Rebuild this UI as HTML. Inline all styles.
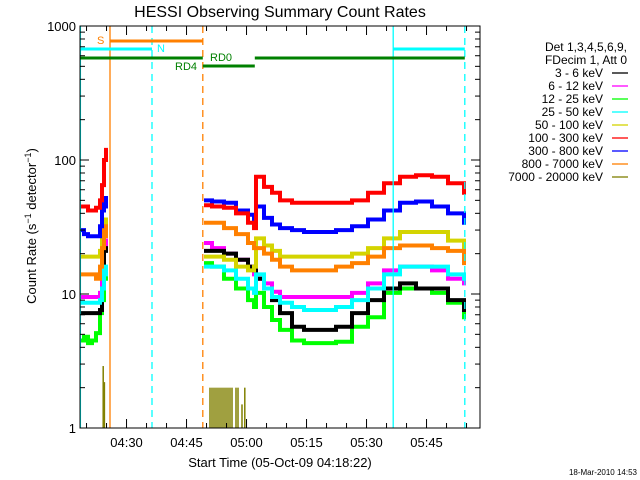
<!DOCTYPE html>
<html><head><meta charset="utf-8"><style>
body{margin:0;background:#fff}
svg{display:block;font-family:"Liberation Sans",sans-serif}
</style></head><body>
<svg id="c" width="640" height="480" xmlns="http://www.w3.org/2000/svg">
<rect width="640" height="480" fill="#fff"/>
<text x="280" y="17" font-size="16" text-anchor="middle">HESSI Observing Summary Count Rates</text>
<g id="plot"></g>
<text transform="translate(36,226) rotate(-90)" font-size="13" text-anchor="middle">Count Rate (s<tspan baseline-shift="super" font-size="9">−1</tspan> detector<tspan baseline-shift="super" font-size="9">−1</tspan>)</text>
<text x="280" y="467" font-size="13" text-anchor="middle">Start Time (05-Oct-09 04:18:22)</text>
<text x="637" y="475" font-size="8" text-anchor="end">18-Mar-2010 14:53</text>
<g id="legend"></g>
</svg>
<script>
// time in minutes since 04:18:22
const T1 = [0,1,2,3,4,5,5.5,6,6.5];
const red1 = [45,45,42,42,44,50,65,100,119];
const blue1 = [30,28,27,27,27,32,42,52,45];
const yellow1 = [19,19,19,19,19,21,29,36,32];
const orange1 = [14,14,14,14,13,16,22,32,27];
const magenta1 = [9.5,9.5,9.5,9.5,9.5,10.2,14,22,25];
const cyan1 = [8.6,8.6,8.6,8.6,8.6,9,11,16,14];
const black1 = [7.2,7.2,7.2,7.2,7.2,7.6,11,22,21];
const green1 = [4.5,4.8,4.3,4.5,5.1,7.2,9,14,13];
const T2 = [31,33,36,39,42,43.5,44,46,48,50,53,56,60,64,68,72,76,80,84,88,92,96];
const red2 = [46,45,44,40,34,31,75,63,57,50,48,48,48,48,50,57,67,75,77,75,67,57];
const blue2 = [50,49,48,42,39,33,45,37,33,31,30,29,29,30,32,36,42,48,49,45,40,34];
const orange2 = [34,34,31,28,24,22,22,20,18,16,15,15,15,16,17,19,22,23,23,22,21,17];
const yellow2 = [19,19,18,16,15,16,26,23,21,19,19,19,19,19,20,22,26,29,29,29,25,22];
const magenta2 = [24,22,20,18,16,14,13,12,10.4,9.5,9.5,9.5,9.5,9.5,10.2,12,15,16,16,15,13,12];
const cyan2 = [16,16,15,13,11,10.2,14,11,9.5,8.6,8,7.6,7.6,8,9,11,14,16,16,16,14,13];
const black2 = [21,21,20,18,16,15,13,11,9,7.2,5.7,5.4,5.4,5.7,7.2,9,11,12,11,11,9,7.6];
const green2 = [17,16,13,11,9,8,10.2,8,6.4,5.4,4.5,4.3,4.3,4.4,5.7,6.7,10.2,11,11,10.2,8.6,6.7];
const oliveT = [5.8,6.1,32.5,33,33.5,34,34.5,35,35.5,36,36.5,37,37.5,38,39,39.5,40.5,41.2];
const oliveV = [2.9,2.2,2,2,2,2,2,2,2,2,2,2,2,2,2,2,1.5,2];
const xTickLabels = ["04:30","04:45","05:00","05:15","05:30","05:45"];
const yTickLabels = ["1","10","100","1000"];
const legendLabels = ["3 - 6 keV","6 - 12 keV","12 - 25 keV","25 - 50 keV","50 - 100 keV","100 - 300 keV","300 - 800 keV","800 - 7000 keV","7000 - 20000 keV"];

const NS="http://www.w3.org/2000/svg";
const L=80,R=480,TOP=26,BOT=428;
const x=t=>L+t*(R-L)/100;
const y=v=>BOT-Math.log10(v)*(BOT-TOP)/3;
const plot=document.getElementById('plot');
function mk(tag,attrs,parent){const e=document.createElementNS(NS,tag);for(const k in attrs)e.setAttribute(k,attrs[k]);(parent||plot).appendChild(e);return e;}

function series(T,V,end,color,name){
  let d='';
  for(let i=0;i<T.length;i++){
    const x0=x(T[i]),x1=x(i+1<T.length?T[i+1]:end),yy=y(V[i]);
    d+=(i?'L':'M')+x0+','+yy+'L'+x1+','+yy;
  }
  const p=mk('path',{d:d,fill:'none',stroke:color,'stroke-width':4});
  
  
}
const S=[["#00ff00",green1,green2,"series-12-25kev"],["#ff00ff",magenta1,magenta2,"series-6-12kev"],["#000000",black1,black2,"series-3-6kev"],["#00ffff",cyan1,cyan2,"series-25-50kev"],["#d4d400",yellow1,yellow2,"series-50-100kev"],["#ff8000",orange1,orange2,"series-800-7000kev"],["#0000ff",blue1,blue2,"series-300-800kev"],["#ff0000",red1,red2,"series-100-300kev"]];
S.forEach(s=>{series(T1,s[1],7,s[0],s[3]+'-seg1');series(T2,s[2],96.5,s[0],s[3]+'-seg2');});
for(let i=0;i<oliveT.length;i++){
  const b=mk('line',{x1:x(oliveT[i]),x2:x(oliveT[i]),y1:BOT,y2:y(oliveV[i]),stroke:'#808000','stroke-width':1.5});
  
  
}

function vline(t,color,dash,name){const e=mk('line',{x1:x(t),x2:x(t),y1:TOP,y2:BOT,stroke:color,'stroke-width':1.3});if(dash)e.setAttribute('stroke-dasharray','7,5');}
vline(0.1,'#00ffff',false,'night-end-line');vline(7.5,'#ff8000',false,'saa-start-line');vline(18,'#00ffff',true,'night-start-dash');
vline(30.7,'#ff8000',true,'saa-end-dash');vline(78.3,'#00ffff',false,'night-end-line-2');vline(96.2,'#00ffff',true,'night-start-dash-2');
function hbar(t0,t1,yy,color,name){const e=mk('line',{x1:x(t0),x2:x(t1),y1:yy,y2:yy,stroke:color,'stroke-width':3});}
hbar(7.5,30.7,41,'#ff8000','saa-bar');hbar(0,18,49,'#00ffff','night-bar');hbar(78.3,96.2,49,'#00ffff','night-bar-2');
hbar(0,30.7,58,'#008000','rd0-bar');hbar(43.7,96.2,58,'#008000','rd0-bar-2');hbar(30.7,43.7,66,'#008000','rd4-bar');
function lab(tx,xx,yy,color,name){const e=mk('text',{x:xx,y:yy,fill:color,'font-size':11});e.textContent=tx;}
lab('S',97,44,'#ff8000','saa-label');lab('N',157,52,'#00ffff','night-label');lab('RD0',210,61,'#008000','rd0-label');lab('RD4',175,70,'#008000','rd4-label');

const box=mk('rect',{x:L,y:TOP,width:R-L,height:BOT-TOP,fill:'none',stroke:'#000','stroke-width':1});

for(let k=0;k<20;k++){const t=1.633+5*k;if(t>100)break;const major=(k%3===2);const len=major?9:5;
  mk('line',{x1:x(t),x2:x(t),y1:BOT,y2:BOT-len,stroke:'#000'});mk('line',{x1:x(t),x2:x(t),y1:TOP,y2:TOP+len,stroke:'#000'});}
xTickLabels.forEach((s,i)=>{const e=mk('text',{x:x(11.633+15*i),y:447,'font-size':13,'text-anchor':'middle'});e.textContent=s;});
for(let dcd=0;dcd<3;dcd++){for(let m=1;m<=10;m++){const v=m*Math.pow(10,dcd);const len=(m===1||m===10)?9:5;
  mk('line',{x1:L,x2:L+len,y1:y(v),y2:y(v),stroke:'#000'});mk('line',{x1:R,x2:R-len,y1:y(v),y2:y(v),stroke:'#000'});}}
yTickLabels.forEach((s,i)=>{const e=mk('text',{x:76,y:y(Math.pow(10,i))+5,'font-size':13,'text-anchor':'end'});e.textContent=s;});

const lg=document.getElementById('legend');
const colors=["#000000","#ff00ff","#00ff00","#00ffff","#d4d400","#ff0000","#0000ff","#ff8000","#808000"];
[["Det 1,3,4,5,6,9,",51],["FDecim 1, Att 0",64]].forEach(h=>{const e=mk('text',{x:627,y:h[1],'font-size':12,'text-anchor':'end'},lg);e.textContent=h[0];});
legendLabels.forEach((s,i)=>{const yy=77+i*13;const e=mk('text',{x:603,y:yy,'font-size':12,'text-anchor':'end'},lg);e.textContent=s;
  const l=mk('line',{x1:612,x2:628,y1:yy-4,y2:yy-4,stroke:colors[i],'stroke-width':1.3},lg);});
</script>
</body></html>
